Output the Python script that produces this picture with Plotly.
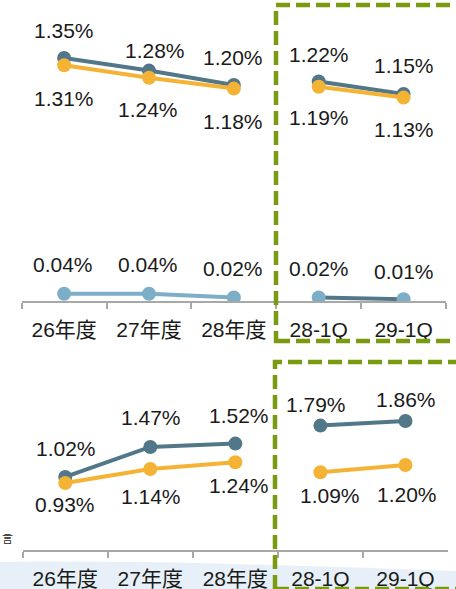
import plotly.graph_objects as go

# ---- data -------------------------------------------------------------
categories = ["26年度", "27年度", "28年度", "28-1Q", "29-1Q"]

top_dark = [1.35, 1.28, 1.20, 1.22, 1.15]
top_orange = [1.31, 1.24, 1.18, 1.19, 1.13]
top_light = [0.04, 0.04, 0.02, 0.02, 0.01]

bottom_dark = [1.02, 1.47, 1.52, 1.79, 1.86]
bottom_orange = [0.93, 1.14, 1.24, 1.09, 1.20]

# fiscal years and quarters are drawn as separate line segments
year_idx = [0, 1, 2]
quarter_idx = [3, 4]

# ---- styling ----------------------------------------------------------
W, H = 456, 589
DARK = "#527789"
ORANGE = "#F5B335"
LIGHT = "#7DAEC8"
GREEN = "#7A9A12"
AXIS_GREY = "#A8A8A8"
TEXT = "#1A1A1A"
FONT = "Liberation Sans, Arial, Noto Sans CJK JP, sans-serif"

# label offsets in pixels (xshift, yshift) for each series
off_top_dark = [(0, 28), (6, 20), (-1, 28), (0, 27), (0, 29)]
off_top_orange = [(0, -33), (-1, -32), (-1, -33), (0, -31), (0, -32)]
off_top_light = [(-1, 29), (-1, 29), (-1, 29), (0, 29), (0, 28)]
off_bot_dark = [(1, 28), (1, 29), (4, 28), (-4, 21), (1, 21)]
off_bot_orange = [(0, -22), (1, -28), (4, -23), (10, -23), (2, -30)]


def px_y(p):
    """pixel row -> paper fraction"""
    return 1 - p / H


def px_x(p):
    return p / W


fig = go.Figure()


def add_series(values, xa, ya, line_colors, marker_color):
    for idx, lc in zip((year_idx, quarter_idx), line_colors):
        fig.add_trace(go.Scatter(
            x=[categories[i] for i in idx],
            y=[values[i] for i in idx],
            xaxis=xa, yaxis=ya,
            mode="lines+markers",
            line=dict(color=lc, width=4),
            marker=dict(color=marker_color, size=14),
            showlegend=False, hoverinfo="skip",
        ))


# top panel
add_series(top_light, "x", "y", (LIGHT, DARK), LIGHT)
add_series(top_dark, "x", "y", (DARK, DARK), DARK)
add_series(top_orange, "x", "y", (ORANGE, ORANGE), ORANGE)
# bottom panel
add_series(bottom_dark, "x2", "y2", (DARK, DARK), DARK)
add_series(bottom_orange, "x2", "y2", (ORANGE, ORANGE), ORANGE)

annotations = []


def add_labels(values, offsets, xref, yref):
    for cat, v, (dx, dy) in zip(categories, values, offsets):
        annotations.append(dict(
            x=cat, y=v, xref=xref, yref=yref,
            text=f"{v:.2f}%", showarrow=False,
            xanchor="center", yanchor="middle",
            xshift=dx, yshift=dy,
            font=dict(family=FONT, size=21, color=TEXT),
        ))


add_labels(top_dark, off_top_dark, "x", "y")
add_labels(top_orange, off_top_orange, "x", "y")
add_labels(top_light, off_top_light, "x", "y")
add_labels(bottom_dark, off_bot_dark, "x2", "y2")
add_labels(bottom_orange, off_bot_orange, "x2", "y2")

# small caption character at the left edge
annotations.append(dict(
    x=0, y=px_y(538), xref="paper", yref="paper",
    text="言", showarrow=False, xanchor="left", yanchor="middle",
    font=dict(family="Noto Sans CJK JP", size=11, color=TEXT),
))

shapes = [
    # pale blue band along the bottom
    dict(type="path", xref="paper", yref="paper", layer="below",
         path=(f"M 0 {px_y(562)} "
               f"C {px_x(150)} {px_y(560)}, {px_x(300)} {px_y(566)}, {px_x(456)} {px_y(571)} "
               f"L {px_x(456)} 0 L 0 0 Z"),
         fillcolor="#E7F0F8", line=dict(width=0)),
    # dashed highlight boxes around the quarterly columns
    dict(type="rect", xref="paper", yref="paper", layer="above",
         x0=px_x(276), x1=px_x(475), y0=px_y(341), y1=px_y(5),
         line=dict(color=GREEN, width=4.5, dash="14px,6px")),
    dict(type="rect", xref="paper", yref="paper", layer="above",
         x0=px_x(275), x1=px_x(475), y0=px_y(589), y1=px_y(362),
         line=dict(color=GREEN, width=4.5, dash="14px,6px")),
]

xaxis_common = dict(
    type="category", categoryorder="array", categoryarray=categories,
    range=[-0.5, 4.5], tickson="boundaries",
    ticks="outside", ticklen=6, tickwidth=1.5, tickcolor=AXIS_GREY,
    showline=True, linecolor=AXIS_GREY, linewidth=1.5,
    showgrid=False, zeroline=False, fixedrange=True,
    tickfont=dict(family=FONT, size=21, color=TEXT),
    ticklabelstandoff=9,
)

fig.update_layout(
    width=W, height=H,
    margin=dict(l=0, r=0, t=0, b=0),
    paper_bgcolor="white", plot_bgcolor="rgba(0,0,0,0)",
    xaxis=dict(domain=[px_x(21.7), px_x(446)], anchor="y", **xaxis_common),
    yaxis=dict(domain=[px_y(301), 1], range=[0, 301 / 180], visible=False),
    xaxis2=dict(domain=[px_x(22.7), px_x(448)], anchor="y2", **xaxis_common),
    yaxis2=dict(domain=[px_y(550), px_y(362)],
                range=[-0.075, -0.075 + 188 / 66.7], visible=False),
    annotations=annotations,
    shapes=shapes,
)

fig.write_html("out.html")
